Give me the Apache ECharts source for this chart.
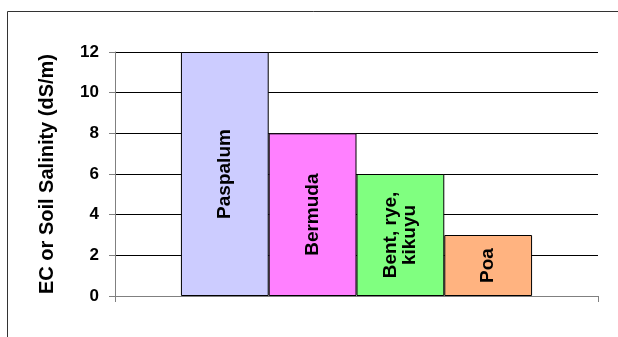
<!DOCTYPE html>
<html>
<head>
<meta charset="utf-8">
<script src="https://cdn.jsdelivr.net/npm/echarts@6/dist/echarts.min.js"></script>
<style>
  html, body { margin: 0; padding: 0; background: #fff; }
  #chart { width: 618px; height: 337px; }
</style>
</head>
<body>
<div id="chart"></div>
<script>
// grass types and their salinity tolerance
const grassNames = ['Paspalum', 'Bermuda', 'Bent, rye,\nkikuyu', 'Poa'];
const salinity = [12, 8, 6, 3];
const barColors = ['#CCCCFF', '#FF80FF', '#80FF80', '#FFB380'];
const yTicks = { min: 0, max: 12, interval: 2 };

let chart = echarts.init(document.getElementById('chart'));

let series = grassNames.map(function (name, i) {
    return {
        name: name,
        type: 'bar',
        data: [salinity[i]],
        barGap: '0%',
        barCategoryGap: '27.3%',
        itemStyle: {
            color: barColors[i],
            borderColor: '#000',
            borderWidth: 1
        },
        label: {
            show: true,
            position: 'inside',
            rotate: 90,
            formatter: name,
            color: '#000',
            fontFamily: 'Arial',
            fontWeight: 'bold',
            fontSize: 19,
            lineHeight: 19,
            align: 'center'
        }
    };
});

let option = {
    animation: false,
    backgroundColor: '#fff',
    graphic: [
        {
            type: 'rect',
            shape: { x: 7.5, y: 11.5, width: 640, height: 400 },
            style: { fill: 'none', stroke: '#333', lineWidth: 1 },
            silent: true
        }
    ],
    grid: {
        left: 115,
        right: 20,
        top: 52,
        bottom: 41
    },
    xAxis: {
        type: 'category',
        data: [''],
        axisLine: { lineStyle: { color: '#808080', width: 1 } },
        axisTick: { show: true, length: 6, lineStyle: { color: '#808080' } },
        axisLabel: { show: false }
    },
    yAxis: {
        type: 'value',
        min: yTicks.min,
        max: yTicks.max,
        interval: yTicks.interval,
        name: 'EC or Soil Salinity (dS/m)',
        nameLocation: 'middle',
        nameGap: 58,
        nameTextStyle: {
            color: '#000',
            fontFamily: 'Arial',
            fontWeight: 'bold',
            fontSize: 20
        },
        axisLine: { show: true, lineStyle: { color: '#808080', width: 1 } },
        axisTick: { show: true, length: 6, lineStyle: { color: '#808080' } },
        axisLabel: {
            color: '#000',
            fontFamily: 'Arial',
            fontWeight: 'bold',
            fontSize: 17,
            margin: 16
        },
        splitLine: { lineStyle: { color: '#000', width: 1 } }
    },
    series: series
};
chart.setOption(option);
</script>
</body>
</html>
